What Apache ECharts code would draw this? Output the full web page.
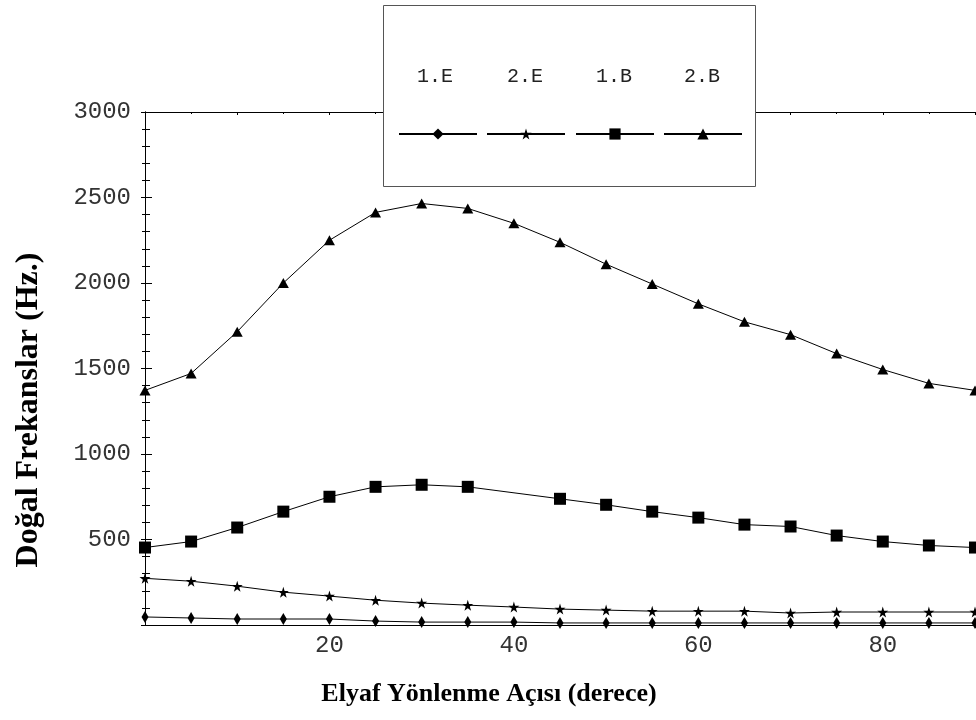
<!DOCTYPE html>
<html><head><meta charset="utf-8">
<script src="https://cdn.jsdelivr.net/npm/echarts@6/dist/echarts.min.js"></script>
<style>html,body{margin:0;padding:0;background:#fff}#c{width:976px;height:720px}</style>
</head><body><div id="c"></div>
<script>
var seriesNames = ['1.E', '2.E', '1.B', '2.B'];
var angles = [0,5,10,15,20,25,30,35,40,45,50,55,60,65,70,75,80,85,90];
var e1 = [47,41,35,35,35,23,17,17,17,12,12,12,12,12,12,12,12,12,12];
var e2 = [273,256,227,192,169,145,128,116,105,93,87,81,81,81,70,76,76,76,76];
// 1.B has no marker at 40 degrees in the reference
var b1Angles = [0,5,10,15,20,25,30,35,45,50,55,60,65,70,75,80,85,90];
var b1 = [453,488,570,663,750,808,820,808,738,703,663,628,587,576,523,488,465,453];
var b2 = [1372,1471,1715,2000,2250,2413,2465,2436,2349,2238,2110,1994,1878,1773,1698,1587,1494,1413,1372];
var xTitle = 'Elyaf Yönlenme Açısı (derece)';
var yTitle = 'Doğal Frekanslar (Hz.)';

function pairs(xs, ys){ return xs.map(function(x,i){ return [x, ys[i]]; }); }
var starPath = 'path://M50,0 L61,35 L98,35 L68,57 L79,91 L50,70 L21,91 L32,57 L2,35 L39,35 Z';
var symbols = ['diamond', starPath, 'rect', 'triangle'];
var sizes = [[7,12], 11, 12, [11,10]];
var datas = [pairs(angles,e1), pairs(angles,e2), pairs(b1Angles,b1), pairs(angles,b2)];

var mono = 'Liberation Mono, Courier New, monospace';
var serif = 'Liberation Serif, Times New Roman, serif';

var series = seriesNames.map(function(n,i){
  return {
    name: n, type: 'line', data: datas[i], symbol: symbols[i], symbolSize: sizes[i],
    showAllSymbol: true, smooth: false,
    lineStyle: {color: '#000', width: 1}, itemStyle: {color: '#000'},
    emphasis: {disabled: true}, animation: false, z: 3
  };
});

var legendX = [398, 486, 575, 663];
var legends = seriesNames.map(function(n,i){
  return {
    data: [n], left: legendX[i], top: 127, padding: 0, itemWidth: 78, itemHeight: 14,
    formatter: function(){ return ''; }, itemGap: 0, selectedMode: false, z: 20,
    textStyle: {fontSize: 1}
  };
});

var graphics = [
  {type: 'rect', left: 383, top: 5, z: 10, shape: {width: 372, height: 181},
   style: {fill: '#fff', stroke: '#555', lineWidth: 1}}
];
var labelX = [435, 525, 614, 702];
seriesNames.forEach(function(n,i){
  graphics.push({type: 'text', z: 11, x: labelX[i], y: 77,
    style: {text: n, fill: '#222', font: '20px ' + mono, textAlign: 'center', textVerticalAlign: 'middle'}});
});
graphics.push({type: 'text', z: 11, x: 489, y: 694,
  style: {text: xTitle, fill: '#000', font: 'bold 26px ' + serif, textAlign: 'center', textVerticalAlign: 'middle'}});
graphics.push({type: 'text', z: 11, x: 29, y: 410, rotation: Math.PI/2,
  style: {text: yTitle, fill: '#000', font: 'bold 32px ' + serif, textAlign: 'center', textVerticalAlign: 'middle'}});

var option = {
  backgroundColor: '#fff',
  animation: false,
  grid: {left: 145, right: 1, top: 112, bottom: 95, containLabel: false},
  legend: legends,
  xAxis: [{
    type: 'value', min: 0, max: 90, interval: 20, position: 'bottom',
    axisLine: {show: true, lineStyle: {color: '#000', width: 1}},
    axisTick: {show: false}, splitLine: {show: false},
    axisLabel: {color: '#333', fontFamily: mono, fontSize: 24, margin: 9,
      showMinLabel: false, showMaxLabel: false,
      formatter: function(v){ return (v === 0 || v === 90) ? '' : String(v); }}
  }, {
    type: 'value', min: 0, max: 90, interval: 10, position: 'top',
    axisLine: {show: true, onZero: false, lineStyle: {color: '#000', width: 1}},
    axisTick: {show: true, inside: true, length: 3, lineStyle: {color: '#000'}},
    minorTick: {show: true, splitNumber: 2, length: 2, lineStyle: {color: '#000'}},
    axisLabel: {show: false}, splitLine: {show: false}
  }],
  yAxis: [{
    type: 'value', min: 0, max: 3000, interval: 500, position: 'left',
    axisLine: {show: true, lineStyle: {color: '#000', width: 1}},
    axisTick: {show: true, inside: true, length: 7, lineStyle: {color: '#000'}},
    minorTick: {show: true, splitNumber: 5, length: 5, lineStyle: {color: '#000'}},
    splitLine: {show: false},
    axisLabel: {color: '#333', fontFamily: mono, fontSize: 24, margin: 14,
      showMinLabel: false,
      formatter: function(v){ return v === 0 ? '' : String(v); }}
  }, {
    type: 'value', min: 0, max: 3000, interval: 500, position: 'right',
    axisLine: {show: true, lineStyle: {color: '#000', width: 1}},
    axisTick: {show: true, inside: true, length: 4, lineStyle: {color: '#000'}},
    minorTick: {show: true, splitNumber: 5, length: 3, lineStyle: {color: '#000'}},
    splitLine: {show: false}, axisLabel: {show: false}
  }],
  series: series,
  graphic: graphics
};
var chart = echarts.init(document.getElementById('c'), null, {renderer: 'canvas'});
chart.setOption(option);
</script></body></html>
